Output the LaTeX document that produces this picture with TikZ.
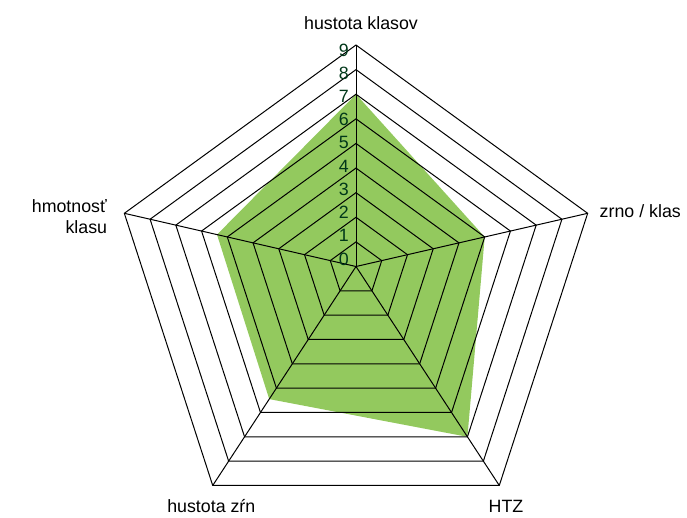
\documentclass[tikz,border=0pt]{standalone}
\usepackage{fontspec}
\setmainfont{Liberation Sans}
\usetikzlibrary{calc}
\definecolor{areagreen}{RGB}{147,201,94}
\definecolor{ticktext}{RGB}{0,55,25}
\begin{document}
\begin{tikzpicture}[x=1pt,y=-1pt,
  grid/.style={draw=black,line width=1pt,line join=miter},
  lbl/.style={font=\fontsize{17.8}{20}\selectfont,inner sep=0pt},
  tick/.style={font=\fontsize{17.8}{20}\selectfont,text=ticktext,inner sep=0pt,anchor=base east}]
\useasboundingbox (0,0) rectangle (687,517);
\coordinate (O) at (356,266.5);
% data area
\fill[areagreen] ($(O)+7*(0,-24.61)$) -- ($(O)+5*(25.74,-5.91)$) -- ($(O)+7*(15.92,24.33)$)
  -- ($(O)+5.45*(-15.92,24.33)$) -- ($(O)+5.4*(-25.74,-5.91)$) -- cycle;
% rings
\foreach \k in {1,...,9}
  \draw[grid] ($(O)+\k*(0,-24.61)$) -- ($(O)+\k*(25.74,-5.91)$) -- ($(O)+\k*(15.92,24.33)$)
  -- ($(O)+\k*(-15.92,24.33)$) -- ($(O)+\k*(-25.74,-5.91)$) -- cycle;
% spokes
\coordinate (vt) at ($(O)+9*(0,-24.61)$);
\coordinate (vr) at ($(O)+9*(25.74,-5.91)$);
\coordinate (vlr) at ($(O)+9*(15.92,24.33)$);
\coordinate (vll) at ($(O)+9*(-15.92,24.33)$);
\coordinate (vl) at ($(O)+9*(-25.74,-5.91)$);
\foreach \v in {vt,vr,vlr,vll,vl} \draw[grid] (O) -- (\v);
% tick labels
\foreach \k in {0,...,9}
  \node[tick] (t\k) at (349,{265-23.22*\k}) {\k};
% axis labels
\node[lbl,anchor=base] (lt) at (361,29.3) {hustota klasov};
\node[lbl,anchor=base west] (lr) at (599.5,217.3) {zrno / klas};
\node[lbl,anchor=base] (llr) at (506,512.3) {HTZ};
\node[lbl,anchor=base] (lll) at (211.3,512.8) {hustota zŕn};
\node[lbl,anchor=base east] (ll1) at (107,212) {hmotnosť};
\node[lbl,anchor=base east] (ll2) at (107.3,233.5) {klasu};
\end{tikzpicture}
\end{document}
